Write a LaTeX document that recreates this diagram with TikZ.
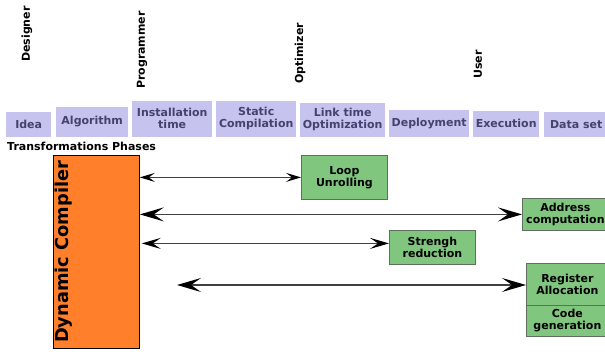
\documentclass[tikz,border=0pt]{standalone}
\usepackage{fontspec}
\setmainfont{DejaVu Sans}
\usetikzlibrary{arrows.meta,calc}
\definecolor{phasefill}{RGB}{198,195,238}
\definecolor{phasetext}{RGB}{68,66,110}
\definecolor{greenfill}{RGB}{128,198,126}
\definecolor{greenborder}{RGB}{95,110,95}
\definecolor{orangefill}{RGB}{255,127,42}
\begin{document}
\begin{tikzpicture}[x=1pt,y=-1pt,
  txt/.style={font=\fontsize{11}{12}\selectfont\bfseries},
  phasebox/.style={txt,fill=phasefill,text=phasetext,align=center,inner sep=0pt,anchor=south west},
  role/.style={txt,rotate=90,anchor=west,inner sep=0pt},
  greenbox/.style={txt,fill=greenfill,draw=greenborder,line width=0.8pt,align=center,inner sep=0pt,anchor=north west},
  conn/.style={draw=black!75,line width=1.3pt},
  tipS/.tip={Stealth[length=15pt,width=9pt,inset=6pt,fill=black,color=black]},
  tipM/.tip={Stealth[length=19pt,width=11pt,inset=8pt,fill=black,color=black]},
  tipL/.tip={Stealth[length=24pt,width=14pt,inset=10pt,fill=black,color=black]}]
\useasboundingbox (0,0) rectangle (605,352);
% phases
\node[phasebox,minimum width=45pt,minimum height=25pt] (idea) at (6,137) {Idea};
\node[phasebox,minimum width=72pt,minimum height=30pt] (algo) at (56,137) {Algorithm};
\node[phasebox,minimum width=80pt,minimum height=36pt] (inst) at (132,137) {Installation\\time};
\node[phasebox,minimum width=80pt,minimum height=36pt] (stat) at (216,137) {Static\\Compilation};
\node[phasebox,minimum width=85pt,minimum height=34pt] (link) at (300,137) {Link time\\Optimization};
\node[phasebox,minimum width=80pt,minimum height=27pt] (depl) at (389,137) {Deployment};
\node[phasebox,minimum width=66pt,minimum height=26pt] (exec) at (473,137) {Execution};
\node[phasebox,minimum width=64pt,minimum height=25pt] (data) at (544,137) {Data set};
% roles
\node[role] (designer) at (27,62) {Designer};
\node[role] (programmer) at (142,89) {Programmer};
\node[role] (optimizer) at (300,84) {Optimizer};
\node[role] (user) at (478,79) {User};
\node[txt,anchor=west,inner sep=0pt] (title) at (7,146) {Transformations Phases};
% dynamic compiler
\node[draw=black,line width=0.8pt,fill=orangefill,minimum width=86pt,minimum height=193pt,anchor=north west,inner sep=0pt] (dc) at (53,155) {};
\node[font=\fontsize{17.8}{20}\selectfont\bfseries,rotate=90,anchor=west,inner sep=0pt] (dctext) at (64,343) {Dynamic Compiler};
% green boxes
\node[greenbox,minimum width=86pt,minimum height=44pt] (loop) at (301,155) {Loop\\Unrolling};
\node[greenbox,minimum width=86pt,minimum height=32pt] (addr) at (522,198) {Address\\computation};
\node[greenbox,minimum width=86pt,minimum height=34pt] (stre) at (389,230) {Strengh\\reduction};
\node[greenbox,minimum width=82pt,minimum height=42pt] (reg) at (526,263) {Register\\Allocation};
\node[greenbox,minimum width=82pt,minimum height=31pt] (code) at (526,305) {Code\\generation};
% connectors
\coordinate (a4start) at (177,285);
\draw[conn,{tipS}-{tipS}] (loop.west -| dc.east) -- (loop.west);
\draw[conn,{tipL}-{tipL}] (addr.west -| dc.east) -- (addr.west);
\draw[conn,{tipM}-{tipM}] ($(stre.west -| dc.east)+(2,-4)$) -- ($(stre.west)+(0,-4)$);
\draw[conn,{tipL}-{tipL}] (a4start) -- (a4start -| reg.west);
\end{tikzpicture}
\end{document}
